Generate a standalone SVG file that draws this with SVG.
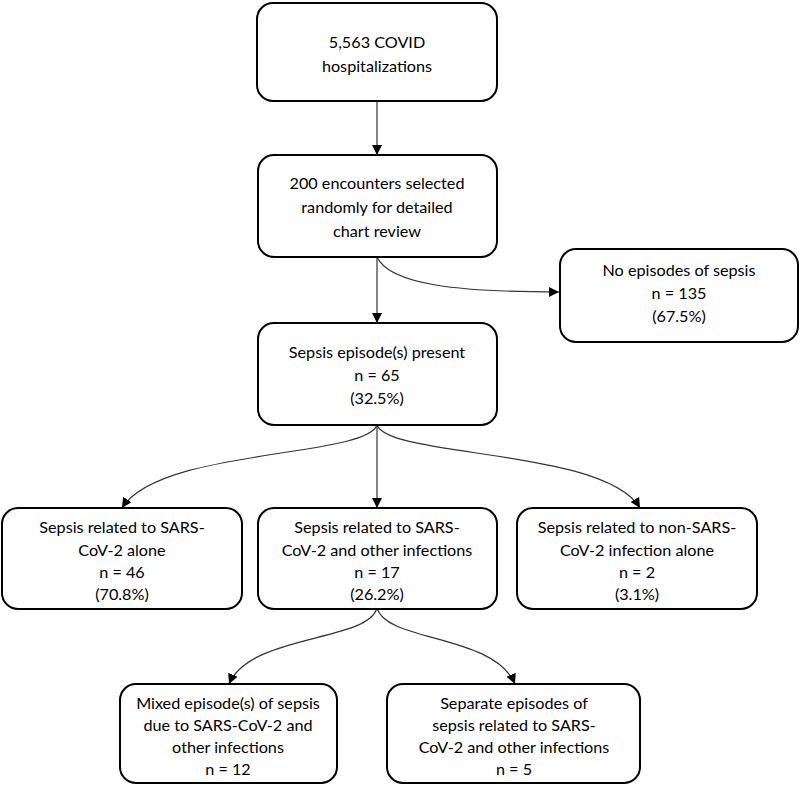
<svg xmlns="http://www.w3.org/2000/svg" width="800" height="787" viewBox="0 0 800 787">
<defs>
<style>
.box{fill:#fff;stroke:#000;stroke-width:2}
.t{font-family:Lato,"Liberation Sans",sans-serif;font-size:16.2px;fill:#000;text-anchor:middle}
.c{fill:none;stroke:#333;stroke-width:1.2}
</style>
<marker id="ah" viewBox="0 0 10 10" refX="10" refY="5" markerWidth="10" markerHeight="10" markerUnits="userSpaceOnUse" orient="auto">
<path d="M0,0 L10,5 L0,10 Z" fill="#000"/>
</marker>
</defs>
<rect width="800" height="787" fill="#fff"/>
<g id="connectors">
<path class="c" d="M377,101 L377,155" marker-end="url(#ah)"/>
<path class="c" d="M377,257 L377,323" marker-end="url(#ah)"/>
<path class="c" d="M377,257 C390,285 460,292 559,292" marker-end="url(#ah)"/>
<path class="c" d="M377,425 C365,458 160,448 122,508" marker-end="url(#ah)"/>
<path class="c" d="M377,425 L377,508" marker-end="url(#ah)"/>
<path class="c" d="M377,425 C389,458 604,448 640,508" marker-end="url(#ah)"/>
<path class="c" d="M377,608 C368,642 250,634 229,684" marker-end="url(#ah)"/>
<path class="c" d="M377,608 C386,642 494,634 515,684" marker-end="url(#ah)"/>
</g>
<g id="n1">
<rect class="box" x="257" y="3" width="240" height="98" rx="16"/>
<text class="t" x="377" y="48">5,563 COVID</text>
<text class="t" x="377" y="72">hospitalizations</text>
</g>
<g id="n2">
<rect class="box" x="258" y="155" width="239" height="102" rx="16"/>
<text class="t" x="377" y="189">200 encounters selected</text>
<text class="t" x="377" y="213">randomly for detailed</text>
<text class="t" x="377" y="237">chart review</text>
</g>
<g id="n3">
<rect class="box" x="560" y="249" width="238" height="93" rx="16"/>
<text class="t" x="679" y="276">No episodes of sepsis</text>
<text class="t" x="679" y="299">n = 135</text>
<text class="t" x="679" y="322">(67.5%)</text>
</g>
<g id="n4">
<rect class="box" x="258" y="323" width="239" height="102" rx="16"/>
<text class="t" x="377" y="358">Sepsis episode(s) present</text>
<text class="t" x="377" y="381">n = 65</text>
<text class="t" x="377" y="404">(32.5%)</text>
</g>
<g id="n5">
<rect class="box" x="2" y="508" width="240" height="101" rx="16"/>
<text class="t" x="122" y="533">Sepsis related to SARS-</text>
<text class="t" x="122" y="556">CoV-2 alone</text>
<text class="t" x="122" y="578">n = 46</text>
<text class="t" x="122" y="600">(70.8%)</text>
</g>
<g id="n6">
<rect class="box" x="258" y="508" width="239" height="101" rx="16"/>
<text class="t" x="377" y="533">Sepsis related to SARS-</text>
<text class="t" x="377" y="556">CoV-2 and other infections</text>
<text class="t" x="377" y="578">n = 17</text>
<text class="t" x="377" y="600">(26.2%)</text>
</g>
<g id="n7">
<rect class="box" x="517" y="508" width="240" height="101" rx="16"/>
<text class="t" x="637" y="533">Sepsis related to non-SARS-</text>
<text class="t" x="637" y="556">CoV-2 infection alone</text>
<text class="t" x="637" y="578">n = 2</text>
<text class="t" x="637" y="600">(3.1%)</text>
</g>
<g id="n8">
<rect class="box" x="120" y="684" width="217" height="99" rx="16"/>
<text class="t" x="228" y="709">Mixed episode(s) of sepsis</text>
<text class="t" x="228" y="731">due to SARS-CoV-2 and</text>
<text class="t" x="228" y="753">other infections</text>
<text class="t" x="228" y="775">n = 12</text>
</g>
<g id="n9">
<rect class="box" x="387" y="684" width="253" height="99" rx="16"/>
<text class="t" x="514" y="709">Separate episodes of</text>
<text class="t" x="514" y="731">sepsis related to SARS-</text>
<text class="t" x="514" y="753">CoV-2 and other infections</text>
<text class="t" x="514" y="775">n = 5</text>
</g>
</svg>
